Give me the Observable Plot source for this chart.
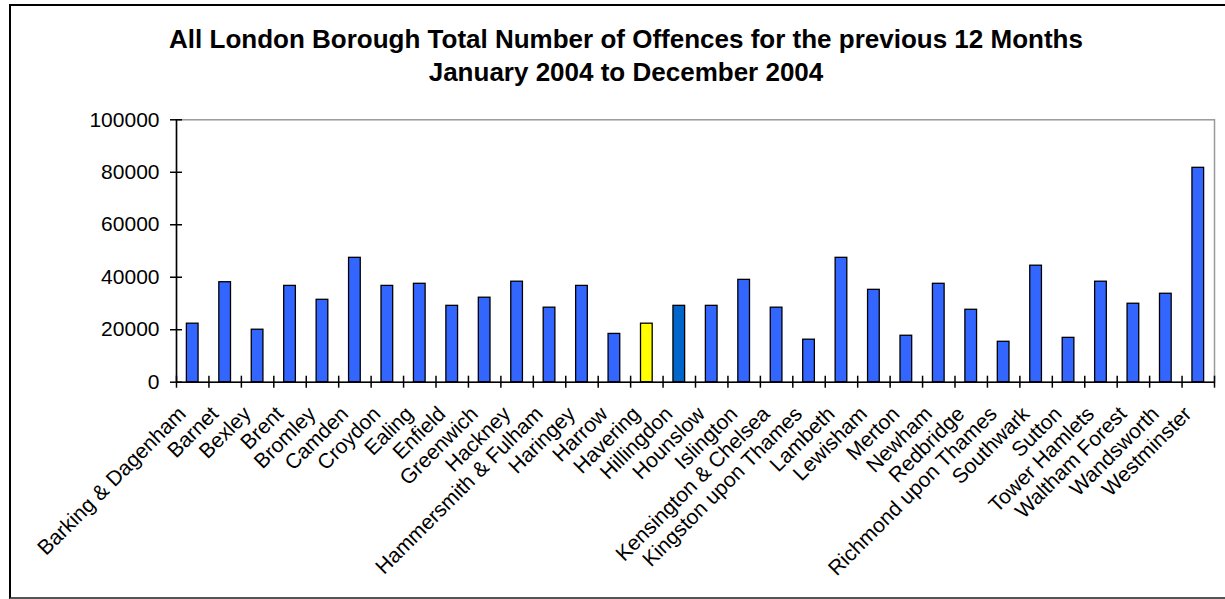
<!DOCTYPE html>
<html>
<head>
<meta charset="utf-8">
<script src="https://cdn.jsdelivr.net/npm/d3@7"></script>
<script src="https://cdn.jsdelivr.net/npm/@observablehq/plot@0.6"></script>
<style>
  html, body { margin: 0; padding: 0; background: #fff; }
  body { width: 1225px; height: 599px; position: relative; overflow: hidden; font-family: "Liberation Sans", Arial, sans-serif; }
  #frame { position: absolute; left: 9px; top: 4px; width: 1240px; height: 591px;
           border-left: 2px solid #000; border-top: 2px solid #000; border-bottom: 2px solid #555; }
  #title { position: absolute; left: 26px; top: 22.6px; width: 1200px; text-align: center;
           font-weight: bold; font-size: 26px; line-height: 33.4px; color: #000; white-space: nowrap; }
  #chart { position: absolute; left: 0; top: 105px; }
</style>
</head>
<body>
<div id="frame"></div>
<div id="title"></div>
<div id="chart"></div>
<script>
const titleLines = [
  "All London Borough Total Number of Offences for the previous 12 Months",
  "January 2004 to December 2004"
];
const boroughs = [
  "Barking & Dagenham", "Barnet", "Bexley", "Brent", "Bromley", "Camden", "Croydon", "Ealing",
  "Enfield", "Greenwich", "Hackney", "Hammersmith & Fulham", "Haringey", "Harrow", "Havering",
  "Hillingdon", "Hounslow", "Islington", "Kensington & Chelsea", "Kingston upon Thames", "Lambeth",
  "Lewisham", "Merton", "Newham", "Redbridge", "Richmond upon Thames", "Southwark", "Sutton",
  "Tower Hamlets", "Waltham Forest", "Wandsworth", "Westminster"
];
const offences = [
  22300, 38100, 20000, 36700, 31400, 47400, 36700, 37500,
  29100, 32200, 38300, 28400, 36700, 18400, 22300,
  29100, 29100, 39000, 28400, 16200, 47400,
  35200, 17700, 37500, 27600, 15400, 44400, 16900,
  38300, 29900, 33700, 81700
];
const yTicks = [0, 20000, 40000, 60000, 80000, 100000];
const highlightYellow = "Havering";
const highlightDark = "Hillingdon";

const data = boroughs.map((name, i) => ({name, value: offences[i]}));

document.getElementById("title").innerHTML = titleLines.join("<br>");

const W = 1225, H = 494;
const ML = 176, MR = 11, MT = 14.3, MB = 217.3;
const step = (W - ML - MR) / boroughs.length;

const fillFor = (d) => d.name === highlightYellow ? "#ffff00" : d.name === highlightDark ? "#0066cc" : "#3366ff";

const chart = Plot.plot({
  width: W,
  height: H,
  marginLeft: ML,
  marginRight: MR,
  marginTop: MT,
  marginBottom: MB,
  style: {fontFamily: "'Liberation Sans', Arial, sans-serif", fontSize: "21px", color: "#000", background: "transparent", overflow: "visible"},
  x: {type: "band", domain: boroughs, paddingInner: 0.64, paddingOuter: 0.32, round: false, axis: null},
  y: {domain: [0, 100000], axis: null},
  marks: [
    Plot.frame({stroke: "#999", strokeWidth: 1.5}),
    Plot.barY(data, {x: "name", y: "value", fill: fillFor, stroke: "#000", strokeWidth: 1.3}),
    Plot.ruleY([0], {stroke: "#000", strokeWidth: 1.5}),
    Plot.ruleX([boroughs[0]], {x: d => d, dx: -step / 2, stroke: "#000", strokeWidth: 1.5}),
    Plot.ruleX(boroughs, {x: d => d, y1: () => 0, y2: () => 0, dx: step / 2, insetTop: -6, insetBottom: -6, stroke: "#000", strokeWidth: 1.5}),
    Plot.ruleX([boroughs[0]], {x: d => d, y1: () => 0, y2: () => 0, dx: -step / 2, insetTop: -6, insetBottom: -6, stroke: "#000", strokeWidth: 1.5}),
    Plot.axisY(yTicks, {tickSize: 12, dx: 6, tickPadding: 11, tickFormat: d3.format("d"), fontSize: 21, label: null, stroke: "#000", strokeWidth: 1.5, fill: "#000"}),
    Plot.text(boroughs, {x: d => d, y: () => 0, text: d => d, rotate: -45, textAnchor: "end", lineAnchor: "bottom", dx: -5.5, dy: 33, fontSize: 21, fill: "#000"})
  ]
});
document.getElementById("chart").appendChild(chart);
</script>
</body>
</html>
